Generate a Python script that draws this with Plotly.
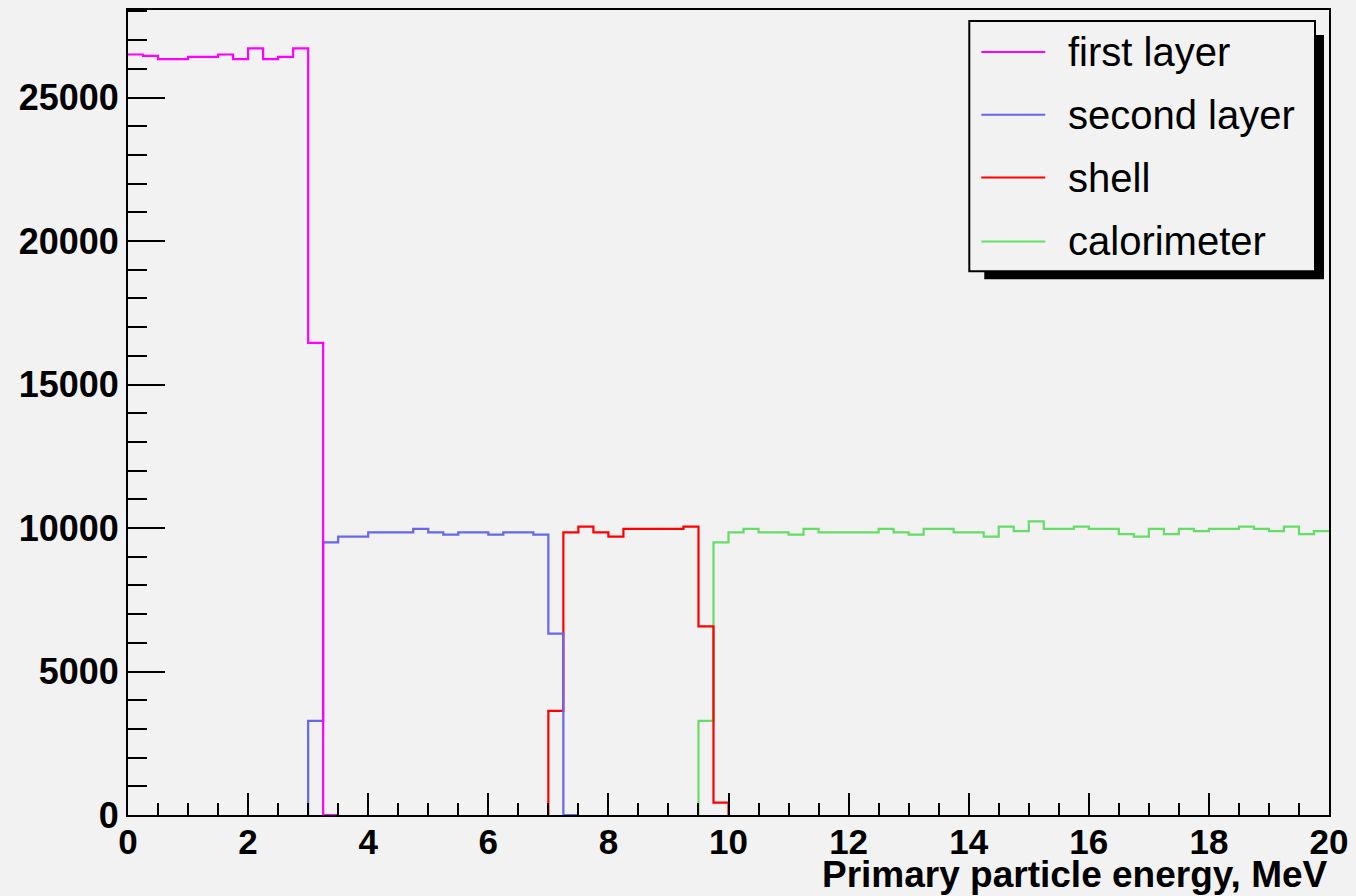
import plotly.graph_objects as go

BIN_W = 0.25
X_MIN, X_MAX = 0, 20

first_start = 0.0
first_vals = [26500, 26450, 26340, 26340, 26420, 26420, 26500, 26340, 26710, 26340,
              26420, 26710, 16450, 0]

second_start = 3.0
second_vals = [3280, 9500, 9700, 9700, 9850, 9850, 9850, 9970, 9850, 9770, 9850, 9850,
               9770, 9850, 9850, 9770, 6320, 0]

shell_start = 7.0
shell_vals = [3630, 9850, 10050, 9850, 9700, 9970, 9970, 9970, 9970, 10050, 6570, 430]

calo_start = 9.5
calo_vals = [3280, 9500, 9850, 9970, 9850, 9850, 9770, 9970, 9850, 9850, 9850, 9850,
             9970, 9850, 9770, 9970, 9970, 9850, 9850, 9700, 10050, 9890,
             10230, 9970, 9970, 10050, 9970, 9970, 9790, 9700, 9970, 9790, 9970, 9890,
             9970, 9970, 10050, 9970, 9890, 10050, 9790, 9890]

series = [
    ("first layer", first_start, first_vals, "#ff00ff"),
    ("second layer", second_start, second_vals, "#6666ee"),
    ("shell", shell_start, shell_vals, "#ff0000"),
    ("calorimeter", calo_start, calo_vals, "#66dd66"),
]

x_ticks = list(range(0, 21, 2))
y_ticks = [0, 5000, 10000, 15000, 20000, 25000]

W, H = 1356, 896
L, R, T, B = 128, 26, 8, 81
PW, PH = W - L - R, H - T - B


def px(xp):
    return (xp - L) / PW


def py(yp):
    return (H - B - yp) / PH


fig = go.Figure()
# later series are drawn underneath earlier ones (as in the reference)
for name, start, vals, color in reversed(series):
    edges = [start + i * BIN_W for i in range(len(vals) + 1)]
    xs = list(edges[:-1])
    ys = list(vals)
    if start > X_MIN:
        xs = [edges[0]] + xs
        ys = [0] + ys
    if edges[-1] < X_MAX:
        xs = xs + [edges[-1]]
        ys = ys + [0]
    else:
        xs = xs + [edges[-1]]
        ys = ys + [vals[-1]]
    fig.add_trace(go.Scatter(x=xs, y=ys, mode="lines", line_shape="hv",
                             line=dict(color=color, width=2.2), name=name,
                             showlegend=False, hoverinfo="skip"))

font_family = "Liberation Sans, Arial, sans-serif"

fig.update_layout(
    width=W, height=H,
    margin=dict(l=L, r=R, t=T, b=B, pad=0),
    paper_bgcolor="#f2f2f2", plot_bgcolor="#f2f2f2",
    showlegend=False,
    font=dict(family=font_family, color="black"),
)
fig.update_xaxes(
    range=[X_MIN, X_MAX], showgrid=False, zeroline=False, layer="above traces",
    showline=True, mirror=True, linecolor="black", linewidth=2,
    ticks="inside", ticklen=22, tickwidth=2, tickcolor="black",
    tickvals=x_ticks, ticktext=[str(v) for v in x_ticks],
    tickfont=dict(size=35, family=font_family, weight="bold"),
    ticklabelstandoff=-5,
    minor=dict(ticks="inside", ticklen=12, tickwidth=2, tickcolor="black", dtick=0.5, showgrid=False),
)
fig.update_yaxes(
    range=[0, 28050], showgrid=False, zeroline=False, layer="above traces",
    showline=True, mirror=True, linecolor="black", linewidth=2,
    ticks="inside", ticklen=37, tickwidth=2, tickcolor="black",
    tickvals=y_ticks, ticktext=[str(v) for v in y_ticks],
    tickfont=dict(size=36, family=font_family, weight="bold"),
    minor=dict(ticks="inside", ticklen=19, tickwidth=2, tickcolor="black", dtick=1000, showgrid=False),
)

# x-axis title
fig.add_annotation(xref="paper", yref="paper", x=1.0, y=py(875), xanchor="right", yanchor="middle",
                   text="<b>Primary particle energy, MeV</b>", showarrow=False, borderpad=0,
                   font=dict(size=37, family=font_family, color="black"))

# legend: shadow + box
fig.add_shape(type="rect", xref="paper", yref="paper", x0=px(985), x1=px(1325), y0=py(33), y1=py(278),
              fillcolor="black", line=dict(width=0), layer="above")
fig.add_shape(type="rect", xref="paper", yref="paper", x0=px(970), x1=px(1316), y0=py(19), y1=py(270),
              fillcolor="#f2f2f2", line=dict(color="black", width=2), layer="above")
entry_y = [50, 113, 176, 240]
for (name, start, vals, color), ey in zip(series, entry_y):
    fig.add_shape(type="line", xref="paper", yref="paper", x0=px(982), x1=px(1046), y0=py(ey), y1=py(ey),
                  line=dict(color=color, width=2), layer="above")
    fig.add_annotation(xref="paper", yref="paper", x=px(1067), y=py(ey), xanchor="left", yanchor="middle",
                       text=name, showarrow=False, font=dict(size=40, family=font_family, color="black"))

fig.write_html("out.html")
